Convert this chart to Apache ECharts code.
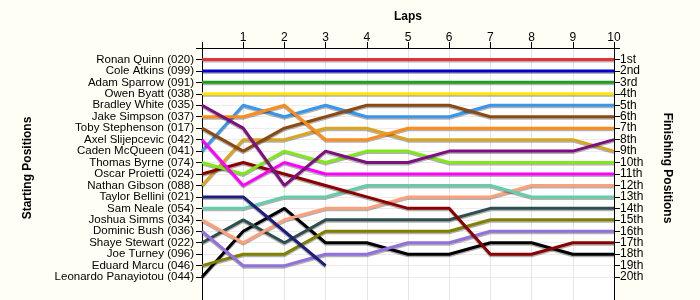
<!DOCTYPE html>
<html style="height: 100%">
<head>
<meta charset="utf-8">
</head>
<body style="height: 100%; margin: 0; background: #fffef4">
<div id="container" style="width: 700px; height: 300px"></div>
<script type="text/javascript" src="https://cdn.jsdelivr.net/npm/echarts@6/dist/echarts.min.js"></script>
<script type="text/javascript">
// drivers in starting order (grid position 1..20)
var drivers = ['Ronan Quinn (020)', 'Cole Atkins (099)', 'Adam Sparrow (091)', 'Owen Byatt (038)',
    'Bradley White (035)', 'Jake Simpson (037)', 'Toby Stephenson (017)', 'Axel Slijepcevic (042)',
    'Caden McQueen (041)', 'Thomas Byrne (074)', 'Oscar Proietti (024)', 'Nathan Gibson (088)',
    'Taylor Bellini (021)', 'Sam Neale (054)', 'Joshua Simms (034)', 'Dominic Bush (036)',
    'Shaye Stewart (022)', 'Joe Turney (096)', 'Eduard Marcu (046)', 'Leonardo Panayiotou (044)'];
var colors = ['#e03438', '#0000cc', '#1f9e1f', '#ffe600', '#7f0f7f', '#ff8c1a', '#8b4a14', '#ff00ff',
    '#3a96ea', '#80e81a', '#8b0000', '#daa520', '#1e1e7a', '#66cdaa', '#ffa07a', '#9370db',
    '#2f4f4f', '#000000', '#808000', '#000000'];
var laps = [0, 1, 2, 3, 4, 5, 6, 7, 8, 9, 10];
var lapLabels = ['', '1', '2', '3', '4', '5', '6', '7', '8', '9', '10'];
var finishLabels = ['1st', '2nd', '3rd', '4th', '5th', '6th', '7th', '8th', '9th', '10th',
    '11th', '12th', '13th', '14th', '15th', '16th', '17th', '18th', '19th', '20th'];
// position of each driver after each lap (lap 0 = start), null = not running
var positions = [
    [1, 1, 1, 1, 1, 1, 1, 1, 1, 1, 1],
    [2, 2, 2, 2, 2, 2, 2, 2, 2, 2, 2],
    [3, 3, 3, 3, 3, 3, 3, 3, 3, 3, 3],
    [4, 4, 4, 4, 4, 4, 4, 4, 4, 4, 4],
    [5, 7, 12, 9, 10, 10, 9, 9, 9, 9, 8],
    [6, 6, 5, 8, 8, 7, 7, 7, 7, 7, 7],
    [7, 9, 7, 6, 5, 5, 5, 6, 6, 6, 6],
    [8, 12, 10, 11, 11, 11, 11, 11, 11, 11, 11],
    [9, 5, 6, 5, 6, 6, 6, 5, 5, 5, 5],
    [10, 11, 9, 10, 9, 9, 10, 10, 10, 10, 10],
    [11, 10, 11, 12, 13, 14, 14, 18, 18, 17, 17],
    [12, 8, 8, 7, 7, 8, 8, 8, 8, 8, 9],
    [13, 13, 16, 19, null, null, null, null, null, null, null],
    [14, 14, 13, 13, 12, 12, 12, 12, 13, 13, 13],
    [15, 17, 15, 14, 14, 13, 13, 13, 12, 12, 12],
    [16, 19, 19, 18, 18, 17, 17, 16, 16, 16, 16],
    [17, 15, 17, 15, 15, 15, 15, 14, 14, 14, 14],
    [null, null, null, null, null, null, null, null, null, null, null],
    [19, 18, 18, 16, 16, 16, 16, 15, 15, 15, 15],
    [20, 16, 14, 17, 17, 18, 18, 17, 17, 18, 18]
];

var myChart = echarts.init(document.getElementById('container'));
var tickVals = [];
for (var i = 0; i <= 20; i++) tickVals.push(i);

var series = [];
for (var d = 0; d < drivers.length; d++) {
    var pts = [];
    for (var l = 0; l < laps.length; l++) {
        if (positions[d][l] != null) pts.push([laps[l], positions[d][l]]);
    }
    series.push({
        name: drivers[d],
        type: 'line',
        data: pts,
        symbol: 'none',
        z: 20 - d,
        lineStyle: {
            color: colors[d], width: 3,
            shadowColor: 'rgba(0,0,0,0.3)', shadowBlur: 0, shadowOffsetY: 1.5
        },
        itemStyle: {color: colors[d]}
    });
}

var font = 'Arial, "Liberation Sans", sans-serif';
var option = {
    animation: false,
    backgroundColor: '#fffef4',
    textStyle: {fontFamily: font},
    grid: {left: 202, right: 86, top: 48, bottom: -2,
        show: true, backgroundColor: '#ffffff', borderWidth: 0, z: -1},
    xAxis: {
        type: 'value', position: 'top', min: 0, max: 10, interval: 1,
        name: 'Laps', nameLocation: 'middle', nameGap: 25,
        nameTextStyle: {fontWeight: 'bold', fontSize: 12, color: '#000', fontFamily: font},
        axisLine: {onZero: false, lineStyle: {color: '#000', width: 1}},
        axisTick: {show: true, length: 6, lineStyle: {color: '#000'}},
        axisLabel: {color: '#000', fontSize: 12, margin: 4, fontFamily: font,
            showMinLabel: true, showMaxLabel: true,
            formatter: function (v) { return lapLabels[v]; }},
        splitLine: {show: true, lineStyle: {color: '#e6e6e6'}}
    },
    yAxis: [{
        type: 'value', inverse: true, min: 0, max: 22, interval: 1, position: 'left',
        name: 'Starting Positions', nameLocation: 'middle', nameGap: 168,
        nameTextStyle: {fontWeight: 'bold', fontSize: 12, color: '#000', fontFamily: font,
            padding: [0, 0, 0, 12]},
        axisLine: {onZero: false, lineStyle: {color: '#000'}},
        axisTick: {show: true, length: 6, customValues: tickVals, lineStyle: {color: '#000'}},
        axisLabel: {color: '#000', fontSize: 11.5, lineHeight: 9, margin: 8, fontFamily: font,
            hideOverlap: false,
            formatter: function (v) { return drivers[v - 1] || ''; }},
        splitLine: {show: true, lineStyle: {color: '#ececec'}}
    }, {
        type: 'value', inverse: true, min: 0, max: 22, interval: 1, position: 'right',
        name: 'Finishing Positions', nameLocation: 'middle', nameGap: 47, nameRotate: -90,
        nameTextStyle: {fontWeight: 'bold', fontSize: 12, color: '#000', fontFamily: font,
            padding: [0, 12, 0, 0]},
        axisLine: {onZero: false, lineStyle: {color: '#000'}},
        axisTick: {show: true, length: 6, customValues: tickVals, lineStyle: {color: '#000'}},
        axisLabel: {color: '#000', fontSize: 12, lineHeight: 9, margin: 6, fontFamily: font,
            hideOverlap: false,
            formatter: function (v) { return finishLabels[v - 1] || ''; }},
        splitLine: {show: false}
    }],
    series: series
};
myChart.setOption(option);
</script>
</body>
</html>
